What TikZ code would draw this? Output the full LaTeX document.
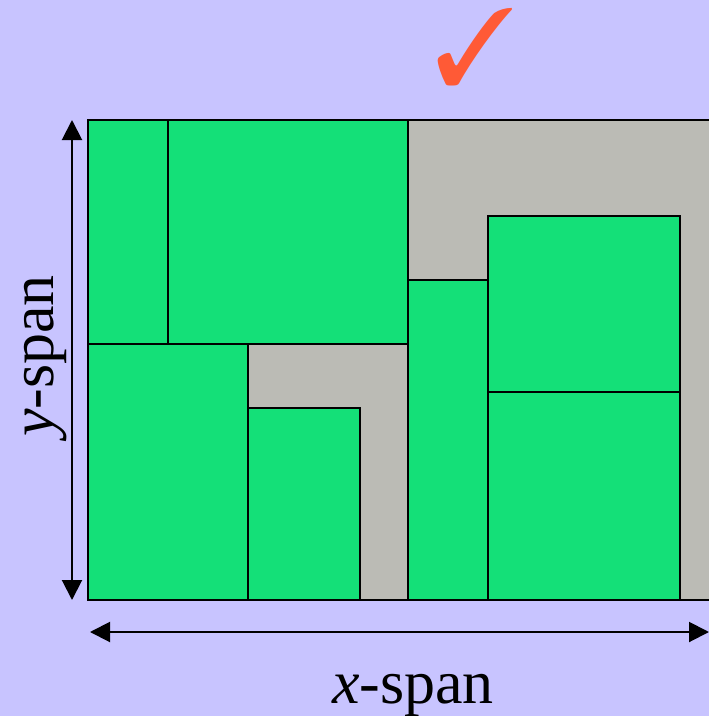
\documentclass[tikz,border=0pt]{standalone}
\usepackage{fontspec}
\setmainfont{Liberation Serif}
\usepackage{pifont}
\usetikzlibrary{arrows.meta}
\definecolor{bgc}{RGB}{200,196,255}
\definecolor{grn}{RGB}{20,224,120}
\definecolor{gry}{RGB}{187,187,181}
\definecolor{chk}{RGB}{255,90,54}
\tikzset{
  blk/.style={fill=grn,draw=black,line width=2pt},
  spanarrow/.style={line width=2pt,{Triangle[length=20pt,width=20pt]}-{Triangle[length=20pt,width=20pt]}},
  lbl/.style={font=\fontsize{62}{62}\selectfont,inner sep=0pt}
}
\begin{document}
\begin{tikzpicture}[x=1pt,y=-1pt]
\useasboundingbox (0,0) rectangle (709,716);
\fill[bgc] (0,0) rectangle (709,716);
\begin{scope}
\clip (0,0) rectangle (709,716);
\draw[fill=gry,draw=black,line width=2pt] (88,120) rectangle (730,600);
\draw[blk] (88,120) rectangle (168,344);
\draw[blk] (168,120) rectangle (408,344);
\draw[blk] (88,344) rectangle (248,600);
\draw[blk] (248,408) rectangle (360,600);
\draw[blk] (408,280) rectangle (488,600);
\draw[blk] (488,216) rectangle (680,392);
\draw[blk] (488,392) rectangle (680,600);
\coordinate (vt) at (72,120);
\coordinate (vb) at (72,600);
\coordinate (hl) at (90,632);
\coordinate (hr) at (709,632);
\draw[spanarrow] (vb) -- (vt);
\draw[spanarrow] (hl) -- (hr);
\end{scope}
\node[lbl,anchor=base] (xs) at (413,703) {\textit{x}-span};
\node[lbl,anchor=base,rotate=90] (ys) at (53,356) {\textit{y}-span};
\node[inner sep=0pt,text=chk,font=\fontsize{108}{108}\selectfont] (ck) at (475,47) {\ding{51}};
\end{tikzpicture}
\end{document}
